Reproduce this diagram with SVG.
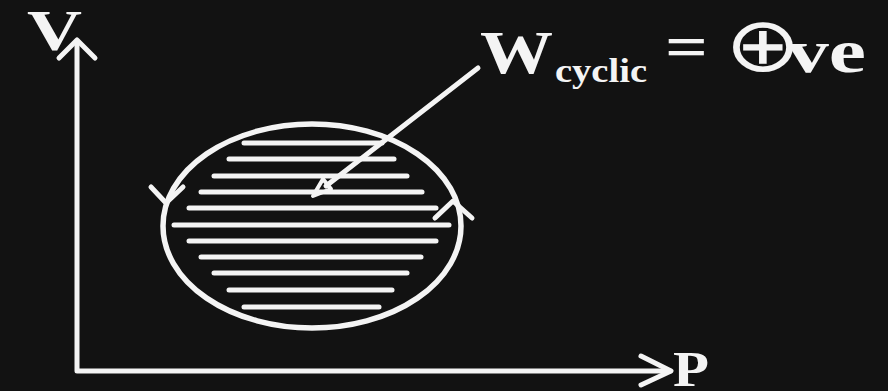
<svg xmlns="http://www.w3.org/2000/svg" width="888" height="391" viewBox="0 0 888 391">
<style>
.ln{stroke:#f4f4f4;fill:none;stroke-linecap:round;stroke-linejoin:round}
.tx{fill:#f4f4f4;font-family:"Liberation Serif","Times New Roman",serif;font-weight:bold}
.hatch line{stroke:#f4f4f4;stroke-width:5;stroke-linecap:round}
</style>
<rect width="888" height="391" fill="#121212"/>
<g id="axes">
<path class="ln" stroke-width="5" d="M77 42 V371 H670"/>
<path class="ln" stroke-width="5" d="M59 58 L77 40 L95 58"/>
<path class="ln" stroke-width="5" d="M641 356 L671 371 L641 385"/>
</g>
<g id="label-V"><text class="tx" x="27" y="50" font-size="57" textLength="55" lengthAdjust="spacingAndGlyphs">V</text></g>
<g id="label-P"><text class="tx" x="673" y="386" font-size="51" textLength="36" lengthAdjust="spacingAndGlyphs">P</text></g>
<g id="cycle">
<ellipse class="ln" stroke-width="5.5" cx="312" cy="226" rx="149" ry="102"/>
<path class="ln" stroke-width="5" d="M151 187 L166 203 L183 187"/>
<path class="ln" stroke-width="5" d="M435 218 L453 201 L472 218"/>
<g class="hatch">
<line x1="244" y1="143" x2="382" y2="143"/>
<line x1="229" y1="159" x2="394" y2="159"/>
<line x1="214" y1="176" x2="407" y2="176"/>
<line x1="201" y1="192" x2="422" y2="192"/>
<line x1="189" y1="208" x2="436" y2="208"/>
<line x1="174" y1="225" x2="449" y2="225"/>
<line x1="189" y1="241" x2="436" y2="241"/>
<line x1="201" y1="257" x2="421" y2="257"/>
<line x1="214" y1="273" x2="407" y2="273"/>
<line x1="229" y1="290" x2="392" y2="290"/>
<line x1="244" y1="307" x2="379" y2="307"/>
</g>
</g>
<g id="connectors">
<path class="ln" stroke-width="5" d="M478 68 L326 186"/>
<path class="ln" stroke-width="4" fill="#121212" d="M313 196 L331 189 L323 179 Z"/>
</g>
<g id="label-W">
<text class="tx" x="480" y="73" font-size="62" textLength="73" lengthAdjust="spacingAndGlyphs">W</text>
<text class="tx" x="555" y="82" font-size="34" textLength="92" lengthAdjust="spacingAndGlyphs">cyclic</text>
<text class="tx" x="665" y="67" font-size="62" textLength="43" lengthAdjust="spacingAndGlyphs">=</text>
<text class="tx" transform="translate(763,71) scale(1.2,1)" x="0" y="0" font-size="76" text-anchor="middle" style="font-family:'DejaVu Sans',sans-serif;font-weight:normal">⊕</text>
<text class="tx" x="787" y="72" font-size="62" textLength="79" lengthAdjust="spacingAndGlyphs">ve</text>
</g>
</svg>
